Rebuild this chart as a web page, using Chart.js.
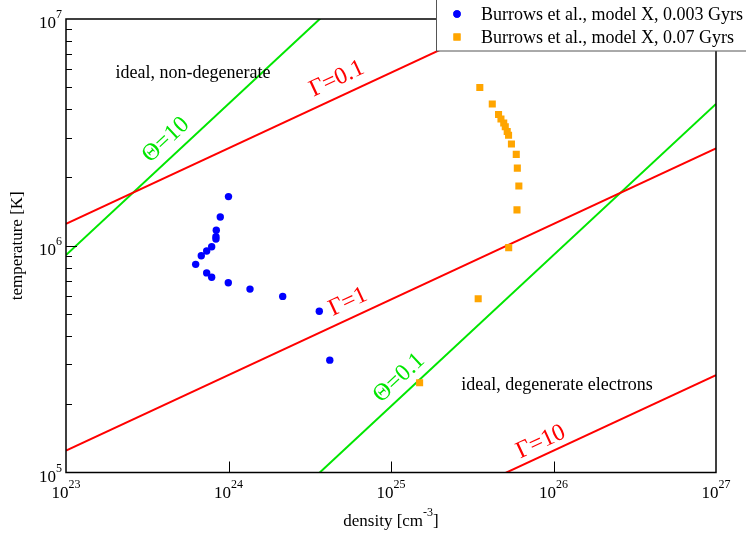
<!DOCTYPE html>
<html>
<head>
<meta charset="utf-8">
<script src="https://cdn.jsdelivr.net/npm/chart.js@4/dist/chart.umd.min.js"></script>
<style>
  body { margin: 0; background: #fff; }
  #wrap { width: 746px; height: 539px; }
</style>
</head>
<body>
<div id="wrap"><canvas id="grafico"></canvas></div>
<script>
// Burrows et al., model X (n in cm^-3, T in K)
const blueN = [1.0e24, 8.9e23, 8.41e23, 8.37e23, 8.37e23, 7.88e23, 7.34e23, 6.8e23, 6.28e23, 7.34e23, 7.88e23, 9.97e23, 1.356e24, 2.156e24, 3.62e24, 4.2e24];
const blueT = [1.647e6, 1.34e6, 1.17e6, 1.097e6, 1.07e6, 9.9e5, 9.48e5, 9.04e5, 8.28e5, 7.59e5, 7.26e5, 6.87e5, 6.44e5, 5.98e5, 5.14e5, 3.13e5];
const orangeN = [3.52e25, 4.2e25, 4.59e25, 4.75e25, 4.94e25, 5.05e25, 5.19e25, 5.29e25, 5.51e25, 5.90e25, 5.99e25, 6.12e25, 5.96e25, 5.30e25, 3.44e25, 1.50e25];
const orangeT = [4.99e6, 4.22e6, 3.79e6, 3.62e6, 3.48e6, 3.35e6, 3.19e6, 3.07e6, 2.81e6, 2.53e6, 2.20e6, 1.835e6, 1.44e6, 9.81e5, 5.84e5, 2.49e5];
const seriesNames = ["Burrows et al., model X, 0.003 Gyrs", "Burrows et al., model X, 0.07 Gyrs"];

// straight lines (log-log), end points at n = 1e23 and n = 1e27
const lineN = [1e23, 1e27];
const gammaNames = ["Γ=0.1", "Γ=1", "Γ=10"];
const gammaT = [[1.25e6, 2.69e7], [1.25e5, 2.69e6], [1.25e4, 2.69e5]];
const thetaNames = ["Θ=10", "Θ=0.1"];
const thetaT = [[9.1e5, 4.22e8], [9.1e3, 4.22e6]];

// where the line names sit (data coords)
const gammaLabelN = [4.65e24, 5.44e24, 8.38e25];
const gammaLabelT = [5.44e6, 5.65e5, 1.363e5];
const thetaLabelN = [4.12e23, 1.12e25];
const thetaLabelT = [2.93e6, 2.61e5];

const regionNames = ["ideal, non-degenerate", "ideal, degenerate electrons"];
const regionN = [6.04e23, 1.05e26];
const regionT = [5.78e6, 2.43e5];

// axes
const xTicks = [1e23, 1e24, 1e25, 1e26, 1e27];
const xTickExp = ["23", "24", "25", "26", "27"];
const yTicks = [1e5, 1e6, 1e7];
const yTickExp = ["5", "6", "7"];
const yMinor = [];
[1e5, 1e6].forEach(d => { for (let k = 2; k <= 9; k++) yMinor.push(k * d); });

const SERIF = '"Liberation Serif", "DejaVu Serif", serif';

function pts(xs, ys) {
  return xs.map((v, i) => ({ x: v, y: ys[i] }));
}

const datasets = [
  { label: seriesNames[0], data: pts(blueN, blueT), backgroundColor: '#0000ff', borderColor: '#0000ff',
    pointStyle: 'circle', pointRadius: 3.7, borderWidth: 0, order: 0 },
  { label: seriesNames[1], data: pts(orangeN, orangeT), backgroundColor: '#ffa500', borderColor: '#ffa500',
    pointStyle: 'rect', pointRadius: 5, borderWidth: 0, order: 0 }
];
gammaT.forEach((t, i) => datasets.push({
  label: gammaNames[i], data: pts(lineN, t), showLine: true, borderColor: '#ff0000',
  borderWidth: 2, pointRadius: 0, order: 1
}));
thetaT.forEach((t, i) => datasets.push({
  label: thetaNames[i], data: pts(lineN, t), showLine: true, borderColor: '#00e600',
  borderWidth: 2, pointRadius: 0, order: 1
}));

// 10 with exponent
function pow10(ctx, exp, x, base, align) {
  ctx.font = '17px ' + SERIF;
  const w1 = ctx.measureText('10').width;
  ctx.font = '12px ' + SERIF;
  const w2 = ctx.measureText(exp).width;
  let x0 = x;
  if (align === 'center') x0 = x - (w1 + w2) / 2;
  if (align === 'right') x0 = x - (w1 + w2);
  ctx.textAlign = 'left';
  ctx.textBaseline = 'alphabetic';
  ctx.font = '17px ' + SERIF;
  ctx.fillText('10', x0, base);
  ctx.font = '12px ' + SERIF;
  ctx.fillText(exp, x0 + w1, base - 10);
}

function seg(ctx, x1, y1, x2, y2) {
  ctx.beginPath(); ctx.moveTo(x1, y1); ctx.lineTo(x2, y2); ctx.stroke();
}

const desenho = {
  id: 'desenho',
  afterDatasetsDraw(chart) {
    const { ctx, chartArea: a, scales: { x, y } } = chart;
    ctx.save();
    ctx.fillStyle = '#000';
    ctx.strokeStyle = '#000';

    // frame
    ctx.lineWidth = 1.5;
    ctx.strokeRect(a.left, a.top, a.right - a.left, a.bottom - a.top);

    // ticks, inside
    ctx.lineWidth = 1;
    xTicks.slice(1, -1).forEach(v => {
      const px = Math.round(x.getPixelForValue(v)) + 0.5;
      seg(ctx, px, a.bottom, px, a.bottom - 11);
    });
    yTicks.slice(1, -1).forEach(v => {
      const py = Math.round(y.getPixelForValue(v)) + 0.5;
      seg(ctx, a.left, py, a.left + 11, py);
    });
    yMinor.forEach(v => {
      const py = Math.round(y.getPixelForValue(v)) + 0.5;
      seg(ctx, a.left, py, a.left + 6, py);
    });

    // tick labels
    xTicks.forEach((v, i) => pow10(ctx, xTickExp[i], x.getPixelForValue(v), a.bottom + 25, 'center'));
    yTicks.forEach((v, i) => pow10(ctx, yTickExp[i], a.left - 4, y.getPixelForValue(v) + 9, 'right'));

    // axis titles
    ctx.font = '17px ' + SERIF;
    const t1 = 'density [cm', t2 = '-3', t3 = ']';
    const w1 = ctx.measureText(t1).width, w3 = ctx.measureText(t3).width;
    ctx.font = '12px ' + SERIF;
    const w2 = ctx.measureText(t2).width;
    let sx = (a.left + a.right) / 2 - (w1 + w2 + w3) / 2;
    ctx.textAlign = 'left';
    ctx.textBaseline = 'alphabetic';
    ctx.font = '17px ' + SERIF;
    ctx.fillText(t1, sx, 526);
    ctx.fillText(t3, sx + w1 + w2, 526);
    ctx.font = '12px ' + SERIF;
    ctx.fillText(t2, sx + w1, 516);

    ctx.save();
    ctx.translate(18, (a.top + a.bottom) / 2);
    ctx.rotate(-Math.PI / 2);
    ctx.font = '17px ' + SERIF;
    ctx.textAlign = 'center';
    ctx.textBaseline = 'middle';
    ctx.fillText('temperature [K]', 0, 0);
    ctx.restore();

    // region names
    ctx.font = '18px ' + SERIF;
    ctx.textAlign = 'center';
    ctx.textBaseline = 'middle';
    regionNames.forEach((s, i) => ctx.fillText(s, x.getPixelForValue(regionN[i]), y.getPixelForValue(regionT[i])));

    // line names, rotated along the lines
    function rotLabel(s, n, t, ends, color) {
      const ang = Math.atan2(y.getPixelForValue(ends[1]) - y.getPixelForValue(ends[0]),
        x.getPixelForValue(lineN[1]) - x.getPixelForValue(lineN[0]));
      ctx.save();
      ctx.translate(x.getPixelForValue(n), y.getPixelForValue(t));
      ctx.rotate(ang);
      ctx.fillStyle = color;
      ctx.font = '24px ' + SERIF;
      ctx.textAlign = 'center';
      ctx.textBaseline = 'middle';
      ctx.fillText(s, 0, 0);
      ctx.restore();
    }
    gammaNames.forEach((s, i) => rotLabel(s, gammaLabelN[i], gammaLabelT[i], gammaT[i], '#ff0000'));
    thetaNames.forEach((s, i) => rotLabel(s, thetaLabelN[i], thetaLabelT[i], thetaT[i], '#00e600'));
    ctx.restore();
  },
  afterDraw(chart) {
    // legend box, top right, partly off the canvas
    const { ctx } = chart;
    ctx.save();
    ctx.fillStyle = '#fff';
    ctx.strokeStyle = '#555';
    ctx.lineWidth = 1;
    ctx.fillRect(436.5, -1, 320, 52);
    ctx.strokeRect(436.5, -1, 320, 52);
    const rows = [14, 37];
    ctx.font = '18px ' + SERIF;
    ctx.textAlign = 'left';
    ctx.textBaseline = 'middle';
    chart.data.datasets.slice(0, 2).forEach((ds, i) => {
      ctx.fillStyle = ds.backgroundColor;
      Chart.helpers.drawPoint(ctx, { pointStyle: ds.pointStyle, radius: ds.pointRadius, borderWidth: 0 }, 457, rows[i]);
      ctx.fill();
      ctx.fillStyle = '#000';
      ctx.fillText(ds.label, 481, rows[i] + 1);
    });
    ctx.restore();
  }
};

new Chart(document.getElementById('grafico'), {
  type: 'scatter',
  data: { datasets },
  options: {
    responsive: true,
    maintainAspectRatio: false,
    animation: false,
    layout: { padding: { left: 66, right: 30, top: 19, bottom: 66.5 } },
    scales: {
      x: { type: 'logarithmic', min: 1e23, max: 1e27, display: false },
      y: { type: 'logarithmic', min: 1e5, max: 1e7, display: false }
    },
    plugins: { legend: { display: false }, tooltip: { enabled: false } }
  },
  plugins: [desenho]
});
</script>
</body>
</html>
